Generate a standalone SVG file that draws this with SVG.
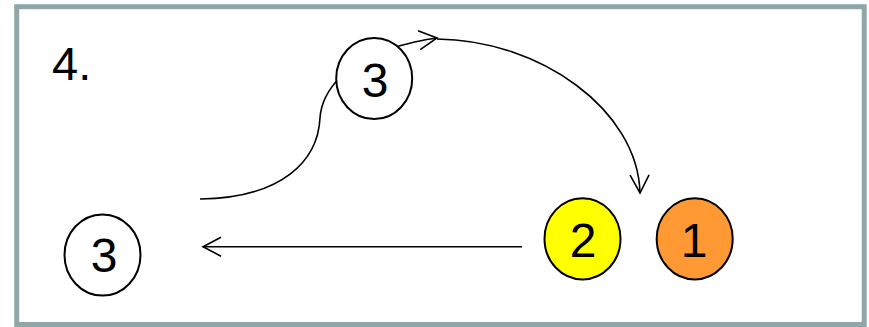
<svg xmlns="http://www.w3.org/2000/svg" width="869" height="327" viewBox="0 0 869 327">
<defs>
<style>
.frame{fill:#fff;stroke:#8fa7a8;stroke-width:5}
.node{stroke:#000;stroke-width:2}
.lbl{font-family:"Liberation Sans",Arial,sans-serif;font-size:48px;fill:#000;text-anchor:middle}
.conn{fill:none;stroke:#000;stroke-width:1.6}
</style>
<marker id="arr" viewBox="-21 -12 23 24" markerWidth="23" markerHeight="24" refX="0" refY="0" markerUnits="userSpaceOnUse" orient="auto">
<path d="M-18,-9.5 L0,0 L-18,9.5" fill="none" stroke="#000" stroke-width="1.6"/>
</marker>
</defs>
<rect class="frame" x="16.7" y="6.7" width="847.5" height="317.8"/>
<text x="52" y="79.5" font-family="Liberation Sans, Arial, sans-serif" font-size="47" fill="#000">4.</text>
<g id="connectors">
<path class="conn" d="M200,199 C283,198 318,160 320,118 C322,88 350,62 385,50 C402,45 420,40 437,38" marker-end="url(#arr)"/>
<path class="conn" d="M437,39 C540,40 638,110 640,193" marker-end="url(#arr)"/>
<path class="conn" d="M522,246.7 L203,246.7" marker-end="url(#arr)"/>
</g>
<g id="node-3-top">
<ellipse class="node" cx="374.2" cy="78.5" rx="38" ry="40.6" fill="#fff"/>
<text class="lbl" x="375" y="96.5">3</text>
</g>
<g id="node-3-left">
<ellipse class="node" cx="102.5" cy="255" rx="38" ry="40.6" fill="#fff"/>
<text class="lbl" x="104" y="271.5">3</text>
</g>
<g id="node-2">
<ellipse class="node" cx="582.5" cy="238.8" rx="38" ry="40.6" fill="#ffff00"/>
<text class="lbl" x="583" y="256.5">2</text>
</g>
<g id="node-1">
<ellipse class="node" cx="694.7" cy="238.8" rx="38" ry="40.6" fill="#ff9933"/>
<text class="lbl" x="694" y="256.5">1</text>
</g>
</svg>
